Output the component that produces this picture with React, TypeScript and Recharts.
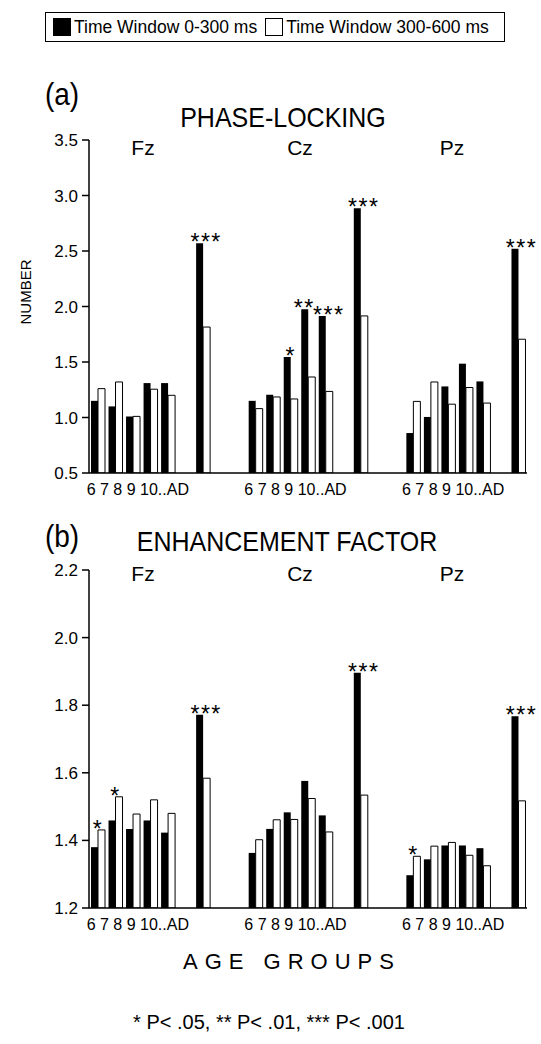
import { BarChart, Bar, XAxis, YAxis, LabelList } from "recharts";

const FONT = "'Liberation Sans', Arial, Helvetica, sans-serif";

const sites = ["Fz", "Cz", "Pz"];
const ages = ["6", "7", "8", "9", "10", "AD"];
const seriesNames = ["Time Window 0-300 ms", "Time Window 300-600 ms"];
const seriesFills = ["#000", "#fff"];

// (a) phase-locking, rows = Fz, Cz, Pz ; cols = 6, 7, 8, 9, 10, AD
const phaseEarly = [
  [1.15, 1.1, 1.01, 1.31, 1.31, 2.57],
  [1.15, 1.205, 1.545, 1.975, 1.915, 2.885],
  [0.86, 1.005, 1.28, 1.485, 1.325, 2.52],
];
const phaseLate = [
  [1.26, 1.32, 1.01, 1.255, 1.2, 1.815],
  [1.08, 1.185, 1.167, 1.365, 1.235, 1.915],
  [1.145, 1.32, 1.12, 1.27, 1.13, 1.705],
];
const phaseStars = [
  ["", "", "", "", "", "***"],
  ["", "", "*", "**", "***", "***"],
  ["", "", "", "", "", "***"],
];
const phaseTicks = [0.5, 1.0, 1.5, 2.0, 2.5, 3.0, 3.5];

// (b) enhancement factor
const enhEarly = [
  [1.38, 1.459, 1.434, 1.459, 1.423, 1.772],
  [1.363, 1.434, 1.483, 1.576, 1.474, 1.896],
  [1.297, 1.344, 1.385, 1.385, 1.377, 1.767],
];
const enhLate = [
  [1.431, 1.529, 1.478, 1.52, 1.48, 1.584],
  [1.402, 1.461, 1.462, 1.524, 1.425, 1.534],
  [1.353, 1.383, 1.394, 1.356, 1.325, 1.517],
];
const enhStars = [
  ["*", "*", "", "", "", "***"],
  ["", "", "", "", "", "***"],
  ["*", "", "", "", "", "***"],
];
const enhTicks = [1.2, 1.4, 1.6, 1.8, 2.0, 2.2];

function buildRows(early: number[][], late: number[][], stars: string[][]) {
  const rows: any[] = [];
  sites.forEach((site, si) => {
    ages.forEach((age, ai) => {
      if (age === "AD") rows.push({ key: `${site}|..` });
      const e = early[si][ai];
      const l = late[si][ai];
      const s = stars[si][ai];
      rows.push({
        key: `${site}|${age}`,
        early: e,
        late: l,
        starB: e >= l ? s : "",
        starW: e < l ? s : "",
      });
    });
    if (si < sites.length - 1) {
      rows.push({ key: `${site}|gap1` });
      rows.push({ key: `${site}|gap2` });
    }
  });
  return rows;
}

const GroupTick = (props: any) => {
  const { x, y, payload } = props;
  const age = String(payload.value).split("|")[1];
  if (age !== "8") return <g />;
  return (
    <text x={x + 5} y={y + 14} textAnchor="middle" fontSize={16} fontFamily={FONT} fill="#000">
      {ages.slice(0, 5).join(" ") + ".." + ages[5]}
    </text>
  );
};

// stars sit over the pair; nudge multi-star marks a little like the original
const starShift: Record<string, number> = { "*": 0, "**": -4, "***": 3 };

const starLabel = (props: any, side: "left" | "right") => {
  const { x, y, width, value } = props;
  if (!value) return null;
  const cx = (side === "right" ? x + width : x) + (starShift[value] || 0);
  return (
    <text x={cx} y={y + 7} textAnchor="middle" fontSize={23} letterSpacing={1.5} fontFamily={FONT} fill="#000">
      {value}
    </text>
  );
};

const yFmt = (v: number) => v.toFixed(1);

interface IPanelProps {
  rows: any[];
  domain: [number, number];
  ticks: number[];
  top: number;
  height: number;
  marginTop: number;
  marginBottom: number;
}

const Panel: React.FC<IPanelProps> = ({ rows, domain, ticks, top, height, marginTop, marginBottom }) => (
  <div style={{ position: "absolute", left: 0, top }}>
    <BarChart
      width={541}
      height={height}
      data={rows}
      margin={{ top: marginTop, right: 14, bottom: marginBottom, left: 0 }}
      barGap={0}
      barSize={7}
    >
      <XAxis
        dataKey="key"
        interval={0}
        tickLine={false}
        tick={<GroupTick />}
        height={30}
        axisLine={{ stroke: "#000", strokeWidth: 1.5 }}
      />
      <YAxis
        width={89}
        domain={domain}
        ticks={ticks}
        tickFormatter={yFmt}
        tickSize={7}
        tickMargin={4}
        allowDataOverflow
        axisLine={{ stroke: "#000", strokeWidth: 1.5 }}
        tickLine={{ stroke: "#000", strokeWidth: 1.5 }}
        tick={{ fill: "#000", fontSize: 17, fontFamily: FONT }}
      />
      <Bar dataKey="early" name={seriesNames[0]} fill={seriesFills[0]} isAnimationActive={false}>
        <LabelList dataKey="starB" content={(p: any) => starLabel(p, "right")} />
      </Bar>
      <Bar dataKey="late" name={seriesNames[1]} fill={seriesFills[1]} stroke="#000" strokeWidth={1} isAnimationActive={false}>
        <LabelList dataKey="starW" content={(p: any) => starLabel(p, "left")} />
      </Bar>
    </BarChart>
  </div>
);

const abs = (x: number, y: number, size: number, extra: any = {}) => ({
  position: "absolute" as const,
  left: x,
  top: y,
  transform: "translate(-50%, -50%)",
  fontFamily: FONT,
  fontSize: size,
  whiteSpace: "nowrap" as const,
  color: "#000",
  ...extra,
});

export default function App() {
  const phaseRows = buildRows(phaseEarly, phaseLate, phaseStars);
  const enhRows = buildRows(enhEarly, enhLate, enhStars);
  const siteX = [143, 300, 452];
  return (
    <div style={{ position: "absolute", left: 0, top: 0, width: 541, height: 1044, background: "#fff" }}>
      <Panel rows={phaseRows} domain={[0.5, 3.5]} ticks={phaseTicks} top={0} height={510} marginTop={140} marginBottom={7} />
      <Panel rows={enhRows} domain={[1.2, 2.2]} ticks={enhTicks} top={520} height={430} marginTop={50} marginBottom={12} />

      {/* legend */}
      <div
        style={{
          position: "absolute",
          left: 45,
          top: 12,
          width: 460,
          height: 30,
          border: "1px solid #000",
          boxSizing: "border-box",
          display: "flex",
          alignItems: "center",
          paddingLeft: 7,
          fontFamily: FONT,
          fontSize: 17.5,
          whiteSpace: "nowrap",
        }}
      >
        {seriesNames.map((n, i) => (
          <span key={n} style={{ display: "flex", alignItems: "center", marginRight: 8, flexShrink: 0 }}>
            <span
              style={{
                display: "inline-block",
                width: 18,
                height: 18,
                background: seriesFills[i],
                border: "1px solid #000",
                boxSizing: "border-box",
                marginRight: 3,
              }}
            />
            {n}
          </span>
        ))}
      </div>

      <div style={abs(62, 95, 28, { transform: "translate(-50%, -50%) scaleY(1.1)" })}>(a)</div>
      <div style={abs(283, 117, 25, { transform: "translate(-50%, -50%) scaleY(1.12)" })}>PHASE-LOCKING</div>
      <div style={abs(62, 537, 28, { transform: "translate(-50%, -50%) scaleY(1.1)" })}>(b)</div>
      <div style={abs(287, 541, 25, { transform: "translate(-50%, -50%) scaleY(1.12)" })}>ENHANCEMENT FACTOR</div>
      {sites.map((s, i) => (
        <div key={"a" + s} style={abs(siteX[i], 148, 21)}>{s}</div>
      ))}
      {sites.map((s, i) => (
        <div key={"b" + s} style={abs(siteX[i], 574, 21)}>{s}</div>
      ))}
      <div style={{ ...abs(25, 292, 15), transform: "translate(-50%, -50%) rotate(-90deg)" }}>NUMBER</div>
      <div style={abs(292, 962, 22, { letterSpacing: 7 })}>AGE GROUPS</div>
      <div style={abs(269, 1022, 20)}>* P&lt; .05, ** P&lt; .01, *** P&lt; .001</div>
    </div>
  );
}
